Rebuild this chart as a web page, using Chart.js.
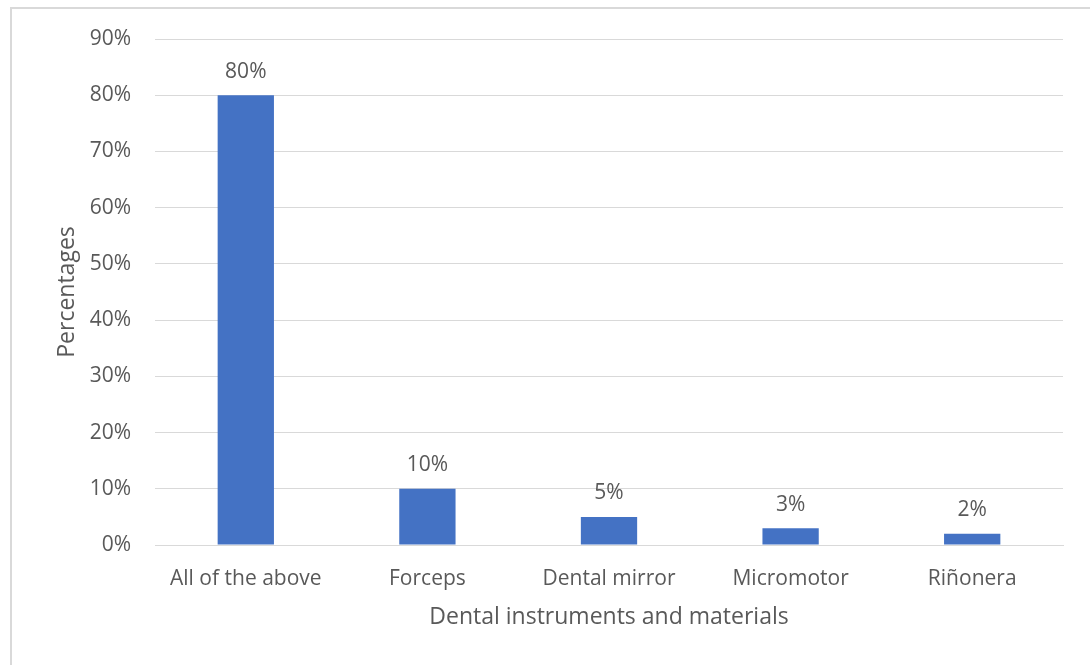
<!doctype html>
<html lang="en">
  <head>
    <meta charset="UTF-8" />
    <title>Dental instruments and materials</title>
    <script src="https://cdn.jsdelivr.net/npm/chart.js"></script>
    <style>
      body,
      html {
        margin: 0;
        padding: 0;
        background: #fff;
      }
      .frame {
        position: absolute;
        left: 10px;
        top: 7px;
        width: 1100px;
        height: 700px;
        border: 2px solid #d9d9d9;
        box-sizing: border-box;
      }
      .chart-box {
        position: absolute;
        left: 0;
        top: 0;
        width: 1090px;
        height: 665px;
      }
    </style>
  </head>
  <body>
    <div class="frame"></div>
    <div class="chart-box">
      <canvas id="dentalChart" width="1090" height="665"></canvas>
    </div>
    <script>
      // chart data
      const categories = [
        "All of the above",
        "Forceps",
        "Dental mirror",
        "Micromotor",
        "Riñonera",
      ];
      const percentages = [80, 10, 5, 3, 2];
      const yTicks = [0, 10, 20, 30, 40, 50, 60, 70, 80, 90];

      const textColor = "#595959";
      const fontFamily = "'Open Sans', sans-serif";

      // draws the value above each bar
      const barLabels = {
        id: "barLabels",
        afterDatasetsDraw(chart) {
          const ctx = chart.ctx;
          const meta = chart.getDatasetMeta(0);
          ctx.save();
          ctx.fillStyle = textColor;
          ctx.font = "21px " + fontFamily;
          ctx.textAlign = "center";
          ctx.textBaseline = "bottom";
          meta.data.forEach((bar, i) => {
            ctx.fillText(percentages[i] + "%", bar.x, bar.y - 13);
          });
          ctx.restore();
        },
      };

      new Chart(document.getElementById("dentalChart"), {
        type: "bar",
        data: {
          labels: categories,
          datasets: [
            {
              data: percentages,
              backgroundColor: "#4472C4",
              categoryPercentage: 0.62,
              barPercentage: 0.5,
            },
          ],
        },
        options: {
          responsive: false,
          animation: false,
          layout: {
            padding: { left: 50, top: 39, right: 27, bottom: 30 },
          },
          plugins: {
            legend: { display: false },
            tooltip: { enabled: false },
          },
          scales: {
            x: {
              grid: { display: false, drawTicks: false },
              border: { color: "#d9d9d9", width: 1 },
              ticks: {
                color: textColor,
                font: { size: 21, family: fontFamily },
                padding: 21,
              },
              title: {
                display: true,
                text: "Dental instruments and materials",
                color: textColor,
                font: { size: 23, family: fontFamily },
                padding: { top: 12 },
              },
              afterFit(scale) {
                scale.height = 90;
              },
            },
            y: {
              min: 0,
              max: 90,
              afterBuildTicks(scale) {
                scale.ticks = yTicks.map((v) => ({ value: v }));
              },
              grid: { color: "#d9d9d9", lineWidth: 1, drawTicks: false },
              border: { display: false },
              ticks: {
                color: textColor,
                font: { size: 21, family: fontFamily },
                padding: 24,
                callback: (v) => v + "%",
              },
              title: {
                display: true,
                text: "Percentages",
                color: textColor,
                font: { size: 23, family: fontFamily },
                padding: { bottom: 0 },
              },
              afterFit(scale) {
                scale.width = 105;
              },
            },
          },
        },
        plugins: [barLabels],
      });
    </script>
  </body>
</html>
